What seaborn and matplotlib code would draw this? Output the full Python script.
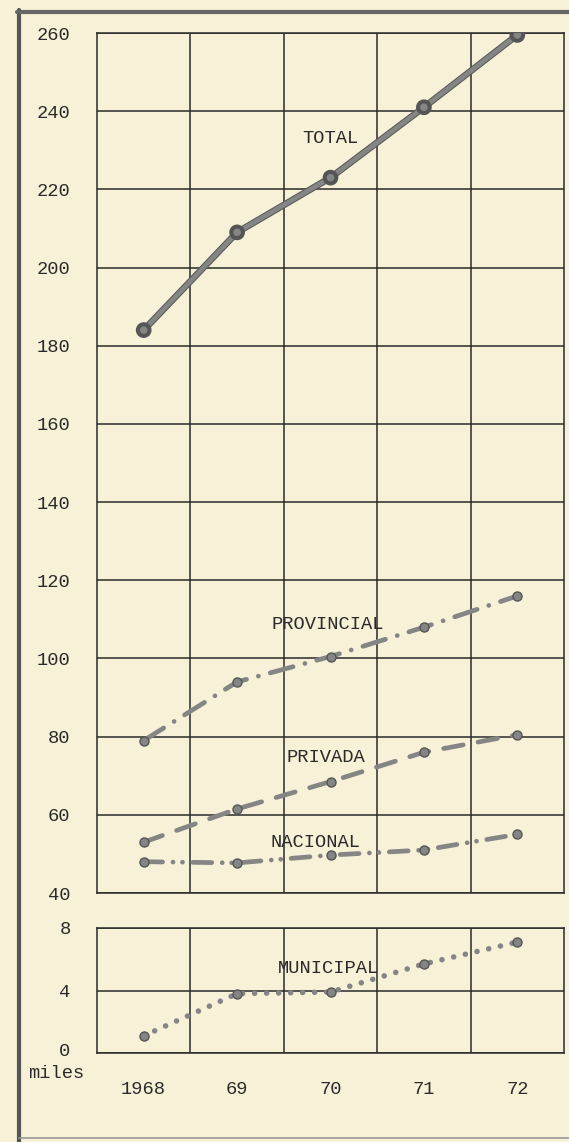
import numpy as np
import pandas as pd
import matplotlib
matplotlib.use("Agg")
import matplotlib.pyplot as plt
import matplotlib.patheffects as pe
import matplotlib.transforms as mtransforms
from matplotlib.lines import Line2D
import seaborn as sns

# ==========================================
# DATA (miles de alumnos)
# ==========================================
years = [1968, 1969, 1970, 1971, 1972]
year_labels = ["1968", "69", "70", "71", "72"]

total = [184, 209, 223, 241, 259.5]
provincial = [79, 94, 100.5, 108, 116]
privada = [53, 61.5, 68.5, 76, 80.5]
nacional = [48, 47.7, 49.7, 51, 55]
municipal = [1.1, 3.8, 3.9, 5.7, 7.1]

top_ticks = list(range(40, 261, 20))
bottom_ticks = [0, 4, 8]

# ==========================================
# STYLE
# ==========================================
sns.set_theme(style="white")
paper = "#f7f1d8"
ink = "#2a2a2a"
plt.rcParams["font.family"] = ["Liberation Mono", "DejaVu Sans Mono"]
plt.rcParams["text.color"] = ink
plt.rcParams["xtick.color"] = ink
plt.rcParams["ytick.color"] = ink

fig = plt.figure(figsize=(5.69, 11.42), dpi=100, facecolor=paper)
W, H = 569, 1142
left, right = 97, 564
ax_top = fig.add_axes([left / W, 1 - 893 / H, (right - left) / W, (893 - 33) / H])
ax_bot = fig.add_axes([left / W, 1 - 1053 / H, (right - left) / W, (1053 - 928) / H])

line_col = "#858585"
edge_col = "#555555"

def draw(ax, vals, ls, lw, label, lx, ly, solid=False):
    df = pd.DataFrame({"year": years, "value": vals})
    effects = [pe.Stroke(linewidth=lw + 1.4, foreground=edge_col), pe.Normal()] if solid else None
    sns.lineplot(data=df, x="year", y="value", ax=ax, color=line_col,
                 linewidth=lw, linestyle=ls, dash_capstyle="round",
                 solid_capstyle="round", marker="o", markersize=6.5,
                 markerfacecolor="#858585", markeredgecolor=edge_col,
                 markeredgewidth=1.0, path_effects=effects, zorder=3)
    ax.text(lx, ly, label, ha="center", va="center", fontsize=13.5, color=ink)

draw(ax_top, total, "-", 3.4, "TOTAL", 1970.0, 233, solid=True)
draw(ax_top, provincial, (0, (5, 2.6, 0.01, 2.6)), 3.4, "PROVINCIAL", 1969.97, 108.6)
draw(ax_top, privada, (0, (4.2, 3.2)), 3.4, "PRIVADA", 1969.95, 74.6)
draw(ax_top, nacional, (0, (4, 2.2, 0.01, 2.0, 0.01, 2.2)), 3.4, "NACIONAL", 1969.84, 52.8)
draw(ax_bot, municipal, (0, (0.01, 2.15)), 4.0, "MUNICIPAL", 1969.98, 5.4)

# ==========================================
# AXES / GRID
# ==========================================
for ax in (ax_top, ax_bot):
    ax.set_facecolor(paper)
    ax.set_xlim(1967.5, 1972.5)
    ax.set_xticks(years)
    ax.set_xticks([1968.5, 1969.5, 1970.5, 1971.5], minor=True)
    ax.grid(False)
    ax.grid(True, which="minor", axis="x", color=ink, linewidth=1.1)
    ax.grid(True, which="major", axis="y", color=ink, linewidth=1.1)
    ax.tick_params(axis="both", which="both", length=0)
    ax.tick_params(axis="y", pad=19, labelsize=13.5)
    ax.set_xlabel("")
    ax.set_ylabel("")
    for s in ax.spines.values():
        s.set_visible(True)
        s.set_color(ink)
        s.set_linewidth(1.1)

ax_top.set_ylim(40, 260)
ax_top.set_yticks(top_ticks)
ax_top.set_xticklabels([])

ax_bot.set_ylim(0, 8)
ax_bot.set_yticks(bottom_ticks)
ax_bot.set_xticklabels(year_labels)
ax_bot.tick_params(axis="x", pad=20, labelsize=13.5)

# the "0" sits a little above the baseline, with "miles" written under it
zero_label = ax_bot.get_yticklabels()[0]
zero_label.set_transform(zero_label.get_transform()
                         + mtransforms.ScaledTranslation(0, 4 / 100, fig.dpi_scale_trans))
fig.text(56 / W, 1 - 1073 / H, "miles", ha="center", va="center", fontsize=13.5, color=ink)

# page frame (thick rule on the left and top, faint at the bottom)
fig.add_artist(Line2D([19 / W, 19 / W], [0, 1 - 10 / H], transform=fig.transFigure,
                      color="#555555", linewidth=3.0))
fig.add_artist(Line2D([17 / W, 1], [1 - 12 / H, 1 - 12 / H], transform=fig.transFigure,
                      color="#666666", linewidth=3.0))
fig.add_artist(Line2D([19 / W, 1], [1 - 1138 / H, 1 - 1138 / H], transform=fig.transFigure,
                      color="#999999", linewidth=1.2))

fig.savefig("out.png", dpi=100, facecolor=paper)
